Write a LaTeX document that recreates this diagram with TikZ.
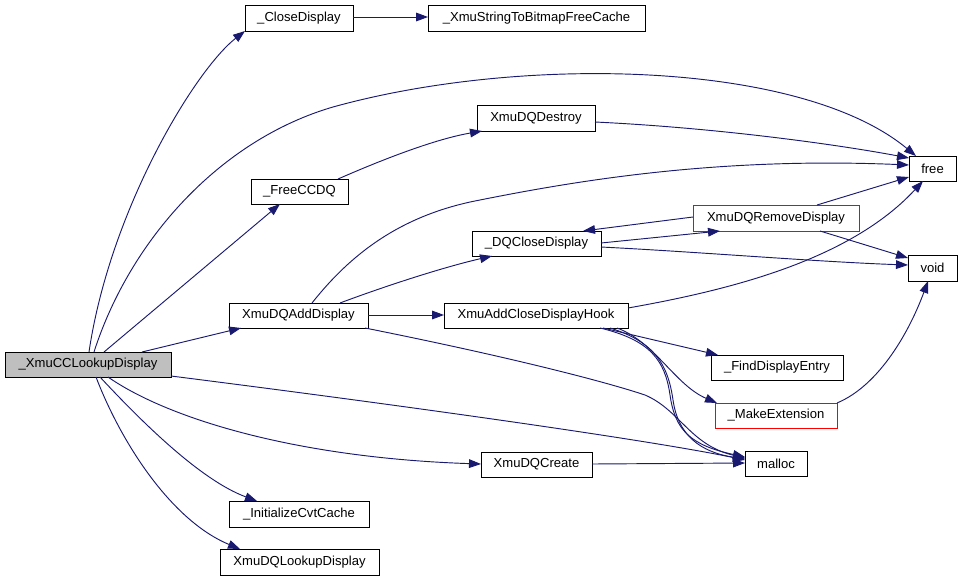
\documentclass[tikz,border=0pt]{standalone}
\usepackage{fontspec}
\setmainfont{Liberation Sans}
\usetikzlibrary{arrows.meta}
\definecolor{edgec}{HTML}{191970}
\definecolor{nodefill}{HTML}{BFBFBF}
\newcommand\mybox[7][]{\node[box,#1,minimum width={(#5-#3)*0.75pt},minimum height={(#6-#4)*0.75pt}] (#2) at ({(#3+#5)/2},{(#4+#6)/2}) {#7};}
\newcommand\anc[3]{([shift={(#2,#3)}]#1.north west)}
\begin{document}
\begin{tikzpicture}[x=0.75pt,y=-0.75pt,
  box/.style={draw=black,line width=0.75pt,inner sep=0pt,outer sep=0pt,fill=white,font=\fontsize{9.8}{11}\selectfont},
  redbox/.style={draw=red},
  link/.style={draw=edgec,line width=0.7pt,-{Triangle[length=9pt,width=6.5pt]}}]
\useasboundingbox (0,0) rectangle (962,578);
% nodes
\mybox[fill=nodefill]{lookup}{5}{352}{171}{377}{\_XmuCCLookupDisplay}
\mybox{closed}{245}{5}{353}{31}{\_CloseDisplay}
\mybox{xmustr}{428}{5}{645}{31}{\_XmuStringToBitmapFreeCache}
\mybox{freeccdq}{251}{179}{348}{204}{\_FreeCCDQ}
\mybox{destroy}{477}{105}{595}{131}{XmuDQDestroy}
\mybox{free}{909}{156}{956}{181}{free}
\mybox[redbox]{remove}{693}{205}{859}{231}{XmuDQRemoveDisplay}
\mybox{dqclose}{472}{231}{601}{256}{\_DQCloseDisplay}
\mybox{void}{908}{255}{957}{281}{void}
\mybox{adddisp}{229}{303}{368}{328}{XmuDQAddDisplay}
\mybox{hook}{444}{303}{628}{328}{XmuAddCloseDisplayHook}
\mybox{find}{711}{355}{843}{380}{\_FindDisplayEntry}
\mybox[redbox]{makeext}{715}{403}{837}{428}{\_MakeExtension}
\mybox{malloc}{745}{451}{807}{476}{malloc}
\mybox{create}{481}{452}{592}{477}{XmuDQCreate}
\mybox{initcvt}{229}{501}{369}{527}{\_InitializeCvtCache}
\mybox{lookupd}{220}{549}{379}{575}{XmuDQLookupDisplay}
% edges from _XmuCCLookupDisplay
\draw[link] \anc{lookup}{84}{0} .. controls (110,210) and (195,70) .. \anc{closed}{0}{26};
\draw[link] \anc{lookup}{89}{0} .. controls (130,240) and (220,140) .. (333,107) .. controls (520,55) and (800,60) .. \anc{free}{7}{0};
\draw[link] \anc{lookup}{99}{0} -- \anc{freeccdq}{29}{25};
\draw[link] \anc{lookup}{137}{0} -- \anc{adddisp}{12}{25};
\draw[link] \anc{lookup}{166}{24} .. controls (400,405) and (650,440) .. \anc{malloc}{0}{9};
\draw[link] \anc{lookup}{103}{25} .. controls (170,420) and (300,458) .. \anc{create}{0}{12};
\draw[link] \anc{lookup}{95}{25} .. controls (140,420) and (200,480) .. \anc{initcvt}{28}{0};
\draw[link] \anc{lookup}{91}{25} .. controls (120,440) and (170,520) .. \anc{lookupd}{20}{0};
% other edges
\draw[link] \anc{closed}{108}{12} -- \anc{xmustr}{0}{12};
\draw[link] \anc{freeccdq}{87}{0} .. controls (370,165) and (430,140) .. \anc{destroy}{5}{26};
\draw[link] \anc{destroy}{118}{17} .. controls (720,128) and (840,145) .. \anc{free}{0}{2};
\draw[link] \anc{adddisp}{83}{0} .. controls (350,255) and (400,215) .. (480,200) .. controls (580,180) and (720,157) .. \anc{free}{0}{9};
\draw[link] \anc{adddisp}{111}{0} .. controls (380,288) and (440,268) .. \anc{dqclose}{20}{25};
\draw[link] \anc{adddisp}{139}{12} -- \anc{hook}{0}{12};
\draw[link] \anc{adddisp}{136}{25} .. controls (500,355) and (600,380) .. (645,395) .. controls (680,410) and (690,445) .. \anc{malloc}{0}{7};
\draw[link] \anc{dqclose}{129}{12} -- \anc{remove}{27}{26};
\draw[link] \anc{remove}{0}{12} -- \anc{dqclose}{111}{0};
\draw[link] \anc{dqclose}{129}{16} .. controls (700,252) and (820,262) .. \anc{void}{0}{10};
\draw[link] \anc{remove}{124}{0} -- \anc{free}{0}{21};
\draw[link] \anc{remove}{127}{26} -- \anc{void}{0}{3};
\draw[link] \anc{hook}{184}{5} .. controls (730,290) and (850,260) .. \anc{free}{14}{25};
\draw[link] \anc{hook}{159}{25} -- \anc{find}{7}{0};
\draw[link] \anc{hook}{173}{25} .. controls (655,342) and (675,385) .. \anc{makeext}{2}{0};
\draw[link] \anc{hook}{156}{25} .. controls (650,340) and (665,360) .. (670,395) .. controls (675,430) and (690,445) .. \anc{malloc}{0}{6};
\draw[link] \anc{hook}{166}{25} .. controls (655,342) and (668,365) .. (673,400) .. controls (678,435) and (700,452) .. \anc{malloc}{0}{8};
\draw[link] \anc{create}{111}{12} -- \anc{malloc}{0}{12};
\draw[link] \anc{makeext}{122}{0} .. controls (880,385) and (910,330) .. \anc{void}{20}{26};
\end{tikzpicture}
\end{document}
